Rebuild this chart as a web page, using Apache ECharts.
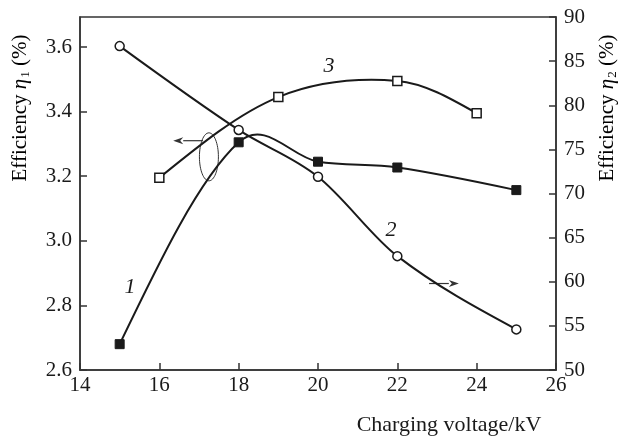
<!DOCTYPE html>
<html>
<head>
<meta charset="utf-8">
<script src="https://cdn.jsdelivr.net/npm/echarts@6/dist/echarts.min.js"></script>
<style>html,body{margin:0;padding:0;background:#fff;}#c{width:620px;height:438px;}</style>
</head>
<body>
<div id="c"></div>
<script>
// Data
const xTicks = [14, 16, 18, 20, 22, 24, 26];
const curve1 = [[15, 2.68], [18, 3.305], [20, 3.245], [22, 3.227], [25, 3.157]];   // η1, left axis
const curve2 = [[15, 86.7], [18, 77.2], [20, 71.9], [22, 62.9], [25, 54.6]];       // η2, right axis
const curve3 = [[16, 3.195], [19, 3.445], [22, 3.495], [24, 3.395]];               // η1, left axis
const curveLabels = ['1', '2', '3'];

const FONT = 'Liberation Serif';
const INK = '#1a1a1a';

const chart = echarts.init(document.getElementById('c'), null, {renderer: 'canvas'});

const axisCommon = {
  axisLine: {show: true, lineStyle: {color: '#333', width: 1.5}},
  axisTick: {show: true, inside: true, length: 7, lineStyle: {color: '#333', width: 1.5}},
  splitLine: {show: false},
  axisLabel: {fontFamily: FONT, fontSize: 21, color: INK}
};

// Cubic Hermite spline (x-parameterised) through the pixel positions of a curve's points
function splineSeries(data, yi) {
  return {
    type: 'custom', yAxisIndex: yi, data: data, z: 2, silent: true,
    renderItem: function (params, api) {
      if (params.dataIndex !== 0) return null;
      const p = data.map(d => api.coord(d));
      const n = p.length;
      const s = [];
      for (let i = 0; i < n - 1; i++) s.push((p[i + 1][1] - p[i][1]) / (p[i + 1][0] - p[i][0]));
      const m = [];
      for (let i = 1; i < n - 1; i++) m[i] = (p[i + 1][1] - p[i - 1][1]) / (p[i + 1][0] - p[i - 1][0]);
      m[0] = (3 * s[0] - m[1]) / 2;
      m[n - 1] = (3 * s[n - 2] - m[n - 2]) / 2;
      let d = 'M' + p[0][0] + ' ' + p[0][1];
      for (let i = 0; i < n - 1; i++) {
        const dx = (p[i + 1][0] - p[i][0]) / 3;
        const c1 = [p[i][0] + dx, p[i][1] + m[i] * dx];
        const c2 = [p[i + 1][0] - dx, p[i + 1][1] - m[i + 1] * dx];
        d += ' C' + c1[0] + ' ' + c1[1] + ' ' + c2[0] + ' ' + c2[1] + ' ' + p[i + 1][0] + ' ' + p[i + 1][1];
      }
      return {type: 'path', shape: {pathData: d}, style: {fill: 'none', stroke: INK, lineWidth: 2}};
    }
  };
}

chart.setOption({
  animation: false,
  backgroundColor: '#fff',
  grid: {left: 80, right: 64, top: 17, bottom: 68, show: true, borderColor: '#333', borderWidth: 1.5, backgroundColor: 'transparent'},
  xAxis: Object.assign({}, axisCommon, {
    type: 'value', min: xTicks[0], max: xTicks[xTicks.length - 1], interval: 2,
    axisLabel: Object.assign({}, axisCommon.axisLabel, {margin: 5})
  }),
  yAxis: [
    Object.assign({}, axisCommon, {
      type: 'value', position: 'left', min: 2.6, max: 3.693, interval: 0.2,
      axisLabel: Object.assign({}, axisCommon.axisLabel, {margin: 8, showMaxLabel: false, formatter: v => v.toFixed(1)})
    }),
    Object.assign({}, axisCommon, {
      type: 'value', position: 'right', min: 50, max: 90, interval: 5,
      axisLabel: Object.assign({}, axisCommon.axisLabel, {margin: 8})
    })
  ],
  series: [
    splineSeries(curve1, 0),
    splineSeries(curve2, 1),
    splineSeries(curve3, 0),
    {type: 'scatter', yAxisIndex: 0, data: curve1, symbol: 'rect', symbolSize: 9, z: 3,
     itemStyle: {color: INK, borderColor: INK, borderWidth: 1, opacity: 1}},
    {type: 'scatter', yAxisIndex: 1, data: curve2, symbol: 'circle', symbolSize: 9, z: 3,
     itemStyle: {color: '#fff', borderColor: INK, borderWidth: 1.5, opacity: 1}},
    {type: 'scatter', yAxisIndex: 0, data: curve3, symbol: 'rect', symbolSize: 9, z: 3,
     itemStyle: {color: '#fff', borderColor: INK, borderWidth: 1.5, opacity: 1}}
  ]
});

const P = (x, y, yi) => chart.convertToPixel({xAxisIndex: 0, yAxisIndex: yi || 0}, [x, y]);

function arrow(from, to) {
  const dx = to[0] - from[0], dy = to[1] - from[1];
  const L = Math.sqrt(dx * dx + dy * dy), ux = dx / L, uy = dy / L;
  const hl = 10, hw = 3.5;
  const bx = to[0] - ux * hl, by = to[1] - uy * hl;
  return [
    {type: 'line', shape: {x1: from[0], y1: from[1], x2: bx, y2: by}, style: {stroke: '#333', lineWidth: 1.2}},
    {type: 'polygon', shape: {points: [to, [bx - uy * hw, by + ux * hw], [bx + ux * 3, by + uy * 3], [bx + uy * hw, by - ux * hw]]}, style: {fill: '#333'}}
  ];
}

const lab1 = P(15.26, 2.857), lab2 = P(21.84, 3.033), lab3 = P(20.28, 3.54);
const ell = P(17.25, 3.26);
const la1 = P(17.1, 3.31), la2 = P(16.35, 3.31);
const ra1 = P(22.8, 59.8, 1), ra2 = P(23.55, 59.8, 1);

const labelStyle = (p, t) => ({type: 'text', x: p[0], y: p[1],
  style: {text: t, fontFamily: FONT, fontStyle: 'italic', fontSize: 22, fill: INK, align: 'center', verticalAlign: 'middle'}});

const rich = {
  a: {fontFamily: FONT, fontSize: 21, color: INK},
  i: {fontFamily: FONT, fontSize: 21, fontStyle: 'italic', color: INK},
  s: {fontFamily: FONT, fontSize: 13, color: INK, verticalAlign: 'bottom', padding: [12, 0, 0, 1]}
};

chart.setOption({
  graphic: [
    labelStyle(lab1, curveLabels[0]),
    labelStyle(lab2, curveLabels[1]),
    labelStyle(lab3, curveLabels[2]),
    {type: 'ellipse', shape: {cx: ell[0], cy: ell[1], rx: 9.5, ry: 24}, style: {fill: 'none', stroke: '#333', lineWidth: 1}},
    ...arrow(la1, la2),
    ...arrow(ra1, ra2),
    {type: 'text', x: 20, y: 108, rotation: Math.PI / 2,
     style: {text: '{a|Efficiency }{i|η}{s|1}{a| (%)}', rich: rich, align: 'center', verticalAlign: 'middle'}},
    {type: 'text', x: 607, y: 108, rotation: Math.PI / 2,
     style: {text: '{a|Efficiency }{i|η}{s|2}{a| (%)}', rich: rich, align: 'center', verticalAlign: 'middle'}},
    {type: 'text', x: 449, y: 425,
     style: {text: 'Charging voltage/kV', fontFamily: FONT, fontSize: 22, fill: INK, align: 'center', verticalAlign: 'middle'}}
  ]
});
</script>
</body>
</html>
